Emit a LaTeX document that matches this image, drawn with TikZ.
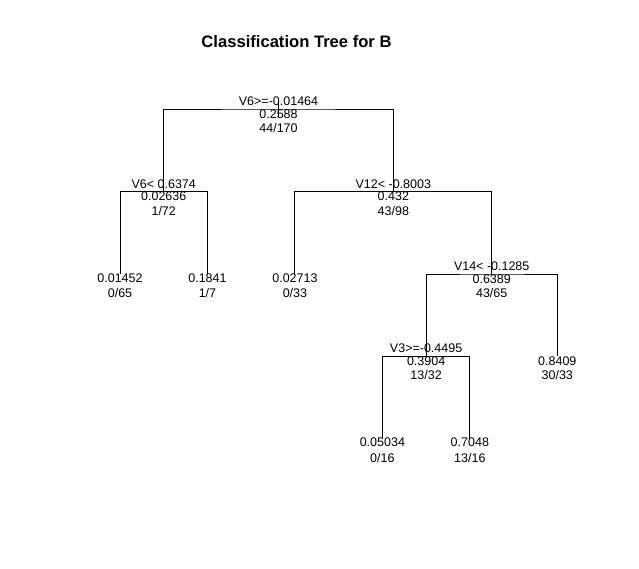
\documentclass[tikz,border=0pt]{standalone}
\usepackage{fontspec}
\setmainfont{Liberation Sans}
\begin{document}
\begin{tikzpicture}[x=1pt,y=-1pt,
  lbl/.style={inner sep=0pt,text height=9pt,text depth=0pt,font=\fontsize{12.5}{14}\selectfont},
  ttl/.style={inner sep=0pt,text height=12pt,text depth=0pt,font=\fontsize{16.6}{19}\selectfont\bfseries},
  br/.style={line width=1pt,black}]
\useasboundingbox[fill=white] (0,0) rectangle (639,568);
\node[ttl] (title) at (296.5,41) {Classification Tree for B};
% tree node positions
\coordinate (n1) at (278.52,109);
\coordinate (n2) at (163.73,191.5);
\coordinate (n3) at (393.31,191.5);
\coordinate (n4) at (120,274);
\coordinate (n5) at (207.46,274);
\coordinate (n6) at (294.92,274);
\coordinate (n7) at (491.7,274);
\coordinate (n14) at (426.11,356.3);
\coordinate (n15) at (557.3,356.3);
\coordinate (n28) at (382.38,438.5);
\coordinate (n29) at (469.84,438.5);
% branches
\draw[br] (n2) |- (n1) -| (n3);
\draw[br] (n4) |- (n2) -| (n5);
\draw[br] (n6) |- (n3) -| (n7);
\draw[br] (n14) |- (n7) -| (n15);
\draw[br] (n28) |- (n14) -| (n29);
\draw[br] ([shift={(0,-9)}]n1) -- ([shift={(0,8)}]n1);
% labels of internal nodes
\node[lbl] (s1) at ([shift={(0,-8)}]n1) {V6>=-0.01464};
\node[lbl] (v1) at ([shift={(0,4.5)}]n1) {0.2588};
\node[lbl] (c1) at ([shift={(0,19)}]n1) {44/170};
\node[lbl] (s2) at ([shift={(0,-8)}]n2) {V6< 0.6374};
\node[lbl] (v2) at ([shift={(0,4.5)}]n2) {0.02636};
\node[lbl] (c2) at ([shift={(0,19)}]n2) {1/72};
\node[lbl] (s3) at ([shift={(0,-8)}]n3) {V12< -0.8003};
\node[lbl] (v3) at ([shift={(0,4.5)}]n3) {0.432};
\node[lbl] (c3) at ([shift={(0,19)}]n3) {43/98};
\node[lbl] (s7) at ([shift={(0,-8)}]n7) {V14< -0.1285};
\node[lbl] (v7) at ([shift={(0,4.5)}]n7) {0.6389};
\node[lbl] (c7) at ([shift={(0,19)}]n7) {43/65};
\node[lbl] (s14) at ([shift={(0,-8)}]n14) {V3>=-0.4495};
\node[lbl] (v14) at ([shift={(0,4.5)}]n14) {0.3904};
\node[lbl] (c14) at ([shift={(0,19)}]n14) {13/32};
% leaves
\node[lbl] (v4) at ([shift={(0,3.5)}]n4) {0.01452};
\node[lbl] (c4) at ([shift={(0,19)}]n4) {0/65};
\node[lbl] (v5) at ([shift={(0,3.5)}]n5) {0.1841};
\node[lbl] (c5) at ([shift={(0,19)}]n5) {1/7};
\node[lbl] (v6) at ([shift={(0,3.5)}]n6) {0.02713};
\node[lbl] (c6) at ([shift={(0,19)}]n6) {0/33};
\node[lbl] (v15) at ([shift={(0,4.5)}]n15) {0.8409};
\node[lbl] (c15) at ([shift={(0,19)}]n15) {30/33};
\node[lbl] (v28) at ([shift={(0,3.5)}]n28) {0.05034};
\node[lbl] (c28) at ([shift={(0,19)}]n28) {0/16};
\node[lbl] (v29) at ([shift={(0,3.5)}]n29) {0.7048};
\node[lbl] (c29) at ([shift={(0,19)}]n29) {13/16};
\end{tikzpicture}
\end{document}
